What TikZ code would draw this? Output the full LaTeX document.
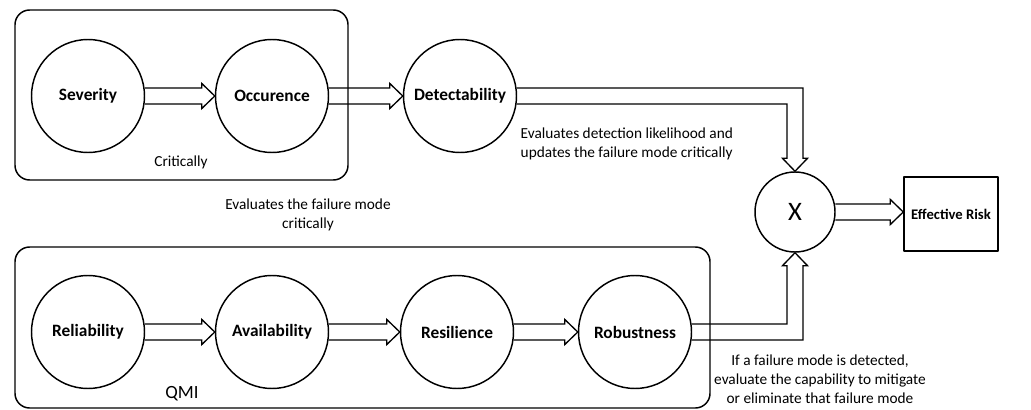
\documentclass[tikz,border=0pt]{standalone}
\usepackage{fontspec}
\setmainfont{Carlito}
\usetikzlibrary{calc}

% hollow block arrow between two nodes in a row
\newcommand{\hollowarrow}[2]{%
  \draw[arrowline] let \p1=(#1.east), \p2=(#2.west) in
    (\x1,\y1+6pt) -- (\x2-9.75pt,\y1+6pt) -- (\x2-9.75pt,\y1+9.4pt) -- (\x2,\y1)
    -- (\x2-9.75pt,\y1-9.4pt) -- (\x2-9.75pt,\y1-6pt) -- (\x1,\y1-6pt);}

\begin{document}
\begin{tikzpicture}
    [line cap=round,line join=round,x=0.75pt,y=-0.75pt,
     factor/.style={draw,circle,line width=1.1pt,minimum size=84.75pt,inner sep=0pt,
                    font=\fontsize{13}{15}\selectfont\bfseries},
     note/.style={font=\fontsize{11.5}{14.25}\selectfont,align=center},
     arrowline/.style={line width=1pt,line join=miter}]
\useasboundingbox (0,0) rectangle (1031,410);

%grouping boxes
 \draw[line width=1.1pt,rounded corners=11pt] (15,10) rectangle (348,180);
 \draw[line width=1.1pt,rounded corners=11pt] (15,247) rectangle (710,408);

%criticality row
 \node[factor] (sev) at (88,96) {Severity};
 \node[factor] (occ) at (272,96) {Occurence};
 \node[factor] (det) at (460,96) {Detectability};

%QMI row
 \node[factor] (rel) at (88,332) {Reliability};
 \node[factor] (ava) at (272,332) {Availability};
 \node[factor] (res) at (457,332) {Resilience};
 \node[factor] (rob) at (635,332) {Robustness};

%product and result
 \node[draw,circle,line width=1.1pt,minimum size=60pt,inner sep=0pt,
       font=\fontsize{20}{22}\selectfont] (mult) at (795,212) {X};
 \node[draw,line width=1.1pt,minimum width=70.5pt,minimum height=55.5pt,
       font=\fontsize{11}{13}\selectfont\bfseries] (risk) at (951,214) {Effective Risk};

 \hollowarrow{sev}{occ}
 \hollowarrow{occ}{det}
 \hollowarrow{rel}{ava}
 \hollowarrow{ava}{res}
 \hollowarrow{res}{rob}
 \hollowarrow{mult}{risk}

%elbow arrows into the product
 \draw[arrowline] let \p1=(det.east), \p2=(mult.north) in
    (\x1,\y1+6pt) -- (\x2+6pt,\y1+6pt) -- (\x2+6pt,\y2+9.75pt) -- (\x2+9.4pt,\y2+9.75pt)
    -- (\x2,\y2) -- (\x2-9.4pt,\y2+9.75pt) -- (\x2-6pt,\y2+9.75pt) -- (\x2-6pt,\y1-6pt)
    -- (\x1,\y1-6pt);
 \draw[arrowline] let \p1=(rob.east), \p2=(mult.south) in
    (\x1,\y1+6pt) -- (\x2-6pt,\y1+6pt) -- (\x2-6pt,\y2-9.75pt) -- (\x2-9.4pt,\y2-9.75pt)
    -- (\x2,\y2) -- (\x2+9.4pt,\y2-9.75pt) -- (\x2+6pt,\y2-9.75pt) -- (\x2+6pt,\y1-6pt)
    -- (\x1,\y1-6pt);

%labels
 \node[note] (crit) at (181,162) {Critically};
 \node[note] (evalfm) at (308,215) {Evaluates the failure mode\\critically};
 \node[note,align=left,anchor=west] (evaldet) at (516,143.5)
      {Evaluates detection likelihood and\\updates the failure mode critically};
 \node[note] (evalmit) at (820,379)
      {If a failure mode is detected,\\evaluate the capability to mitigate\\or eliminate that failure mode};
 \node[font=\fontsize{14}{16}\selectfont] (qmi) at (182,394) {QMI};

\end{tikzpicture}
\end{document}
